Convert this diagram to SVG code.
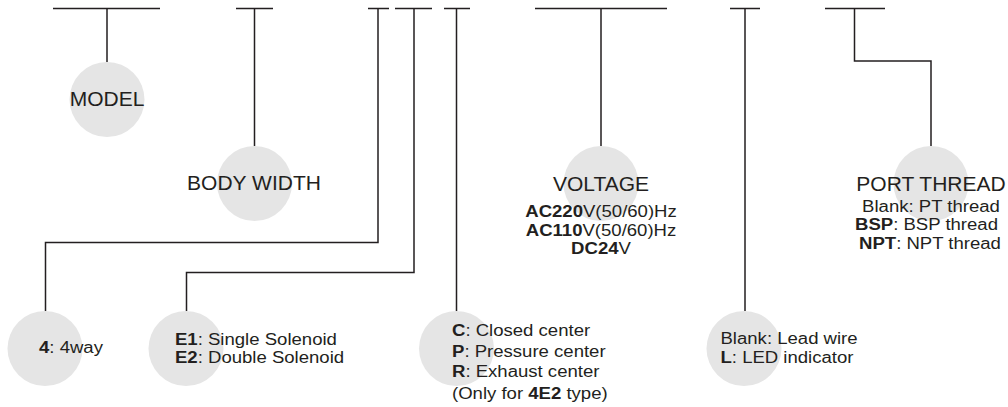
<svg xmlns="http://www.w3.org/2000/svg" width="1008" height="407" viewBox="0 0 1008 407">
<style>
.c{fill:#e5e5e5}
.ln{fill:none;stroke:#231f20;stroke-width:1.5}
.big{font-family:"Liberation Sans",Arial,sans-serif;font-size:21px;fill:#231f20;text-anchor:middle}
.sm{font-family:"Liberation Sans",Arial,sans-serif;font-size:16px;fill:#231f20}
.mid{text-anchor:middle}
.b{font-weight:bold}
</style>
<rect width="1008" height="407" fill="#fff"/>
<g id="n-model"><circle class="c" cx="107" cy="99.5" r="37.5"/><text class="big" x="107" y="106">MODEL</text></g>
<g id="n-width"><circle class="c" cx="254.5" cy="183.5" r="37.5"/><text class="big" x="254" y="190">BODY WIDTH</text></g>
<g id="n-voltage"><circle class="c" cx="601" cy="183.5" r="37.5"/><text class="big" x="601" y="190.5">VOLTAGE</text>
<text class="sm mid" transform="translate(601 217) scale(1.16 1)"><tspan class="b">AC220</tspan>V(50/60)Hz</text>
<text class="sm mid" transform="translate(601 235.5) scale(1.16 1)"><tspan class="b">AC110</tspan>V(50/60)Hz</text>
<text class="sm mid" transform="translate(601 254) scale(1.16 1)"><tspan class="b">DC24</tspan>V</text></g>
<g id="n-port"><circle class="c" cx="931" cy="183.5" r="37.5"/><text class="big" x="931" y="190.5">PORT THREAD</text>
<text class="sm mid" transform="translate(931 211.5) scale(1.16 1)">Blank: PT thread</text>
<text class="sm mid" transform="translate(926.5 230) scale(1.16 1)"><tspan class="b">BSP</tspan>: BSP thread</text>
<text class="sm mid" transform="translate(930 248.5) scale(1.16 1)"><tspan class="b">NPT</tspan>: NPT thread</text></g>
<g id="n-way"><circle class="c" cx="45" cy="348.5" r="37.5"/><text class="sm" transform="translate(39 353) scale(1.16 1)"><tspan class="b">4</tspan>: 4way</text></g>
<g id="n-sol"><circle class="c" cx="186" cy="348.5" r="37.5"/>
<text class="sm" transform="translate(175 344.5) scale(1.16 1)"><tspan class="b">E1</tspan>: Single Solenoid</text>
<text class="sm" transform="translate(175 363) scale(1.16 1)"><tspan class="b">E2</tspan>: Double Solenoid</text></g>
<g id="n-center"><circle class="c" cx="456.5" cy="348.5" r="37.5"/>
<text class="sm" transform="translate(452 335.5) scale(1.16 1)"><tspan class="b">C</tspan>: Closed center</text>
<text class="sm" transform="translate(452 356.5) scale(1.16 1)"><tspan class="b">P</tspan>: Pressure center</text>
<text class="sm" transform="translate(452 377) scale(1.16 1)"><tspan class="b">R</tspan>: Exhaust center</text>
<text class="sm" transform="translate(452 398.5) scale(1.16 1)">(Only for <tspan class="b">4E2</tspan> type)</text></g>
<g id="n-led"><circle class="c" cx="744" cy="348.5" r="37.5"/>
<text class="sm" transform="translate(720.5 344) scale(1.16 1)">Blank: Lead wire</text>
<text class="sm" transform="translate(720.5 363) scale(1.16 1)"><tspan class="b">L</tspan>: LED indicator</text></g>
<g id="connectors" class="ln">
<path d="M53 8.5H160M107 8.5V62"/>
<path d="M236 8.5H273M254.5 8.5V146"/>
<path d="M368 8.5H389M378 8.5V242.5H45.5V311"/>
<path d="M395 8.5H432M414 8.5V272.5H186.5V311"/>
<path d="M444 8.5H470M456.5 8.5V311"/>
<path d="M535 8.5H667M601 8.5V146"/>
<path d="M730 8.5H760M745 8.5V311"/>
<path d="M825 8.5H885M854.5 8.5V61H931V146"/>
</g>
</svg>
